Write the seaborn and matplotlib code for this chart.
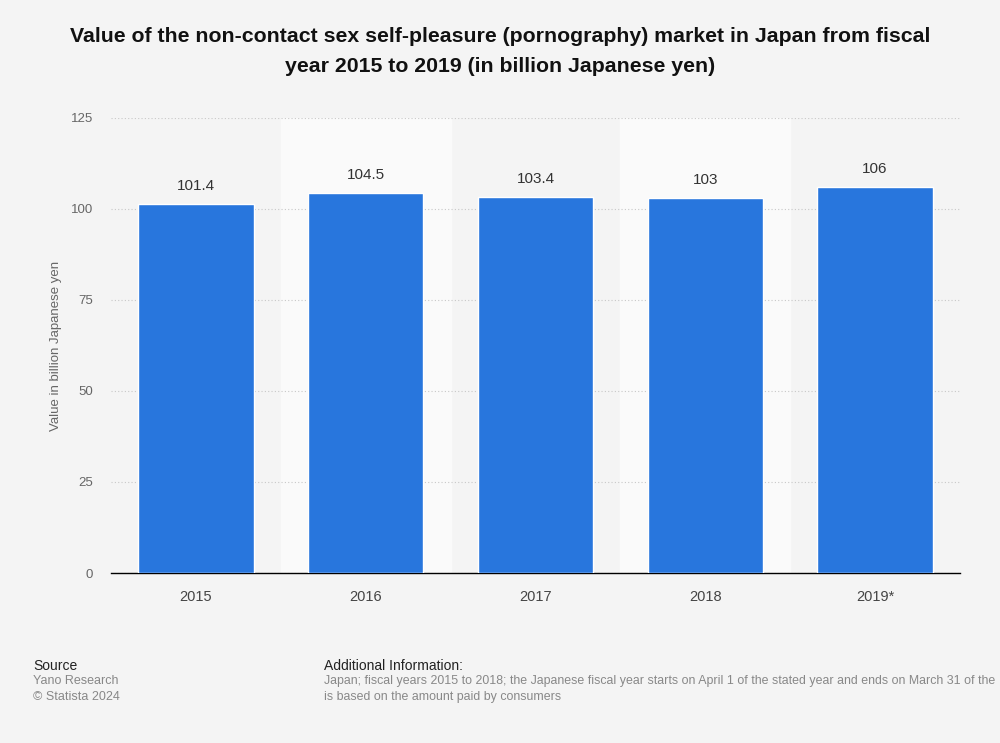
import pandas as pd
import numpy as np
import matplotlib.pyplot as plt
import seaborn as sns

# Data
years = ['2015', '2016', '2017', '2018', '2019*']
values = [101.4, 104.5, 103.4, 103, 106]
labels = ['101.4', '104.5', '103.4', '103', '106']
yticks = [0, 25, 50, 75, 100, 125]

df = pd.DataFrame({'year': years, 'value': values})

sns.set_style('white')
plt.rcParams['font.family'] = ['Liberation Sans', 'DejaVu Sans']

bg = '#f4f4f4'
fig = plt.figure(figsize=(10, 7.43), dpi=100, facecolor=bg)
ax = fig.add_axes([0.111, 0.2288, 0.849, 0.6124])
ax.set_facecolor(bg)

# Alternating light bands behind every second category
for i in range(len(years)):
    if i % 2 == 1:
        ax.axvspan(i - 0.5, i + 0.5, color='#fafafa', zorder=0)

sns.barplot(data=df, x='year', y='value', color='#2876dd', width=0.68,
            saturation=1, ax=ax, zorder=3)

for i, (v, lab) in enumerate(zip(values, labels)):
    ax.text(i, v + 3, lab, ha='center', va='bottom', fontsize=11, color='#333333', zorder=4)

ax.set_xlim(-0.5, len(years) - 0.5)
ax.set_ylim(0, 125)
ax.set_yticks(yticks)
ax.yaxis.grid(True, linestyle=(0, (1, 2)), color='#c8c8c8', linewidth=0.8, zorder=1)
ax.set_axisbelow(True)

for s in ['top', 'right', 'left']:
    ax.spines[s].set_visible(False)
ax.spines['bottom'].set_color('#000000')
ax.spines['bottom'].set_linewidth(1)

ax.tick_params(axis='y', length=0, pad=13, labelsize=9.5, labelcolor='#666666')
ax.tick_params(axis='x', length=0, pad=12, labelsize=10.5, labelcolor='#444444')
ax.set_xlabel('')
ax.set_ylabel('Value in billion Japanese yen', fontsize=9.5, color='#666666', labelpad=6)

fig.text(0.5, 0.931, 'Value of the non-contact sex self-pleasure (pornography) market in Japan from fiscal\nyear 2015 to 2019 (in billion Japanese yen)',
         ha='center', va='center', fontsize=15.3, fontweight='bold', color='#111111', linespacing=1.75)

fig.text(0.033, 0.104, 'Source', fontsize=10, color='#222222', va='center')
fig.text(0.033, 0.083, 'Yano Research', fontsize=9, color='#888888', va='center')
fig.text(0.033, 0.062, '© Statista 2024', fontsize=9, color='#888888', va='center')

fig.text(0.324, 0.104, 'Additional Information:', fontsize=10, color='#222222', va='center')
fig.text(0.324, 0.083, 'Japan; fiscal years 2015 to 2018; the Japanese fiscal year starts on April 1 of the stated year and ends on March 31 of the',
         fontsize=8.9, color='#888888', va='center')
fig.text(0.324, 0.062, 'is based on the amount paid by consumers', fontsize=8.9, color='#888888', va='center')

fig.savefig('out.png', dpi=100, facecolor=bg)
